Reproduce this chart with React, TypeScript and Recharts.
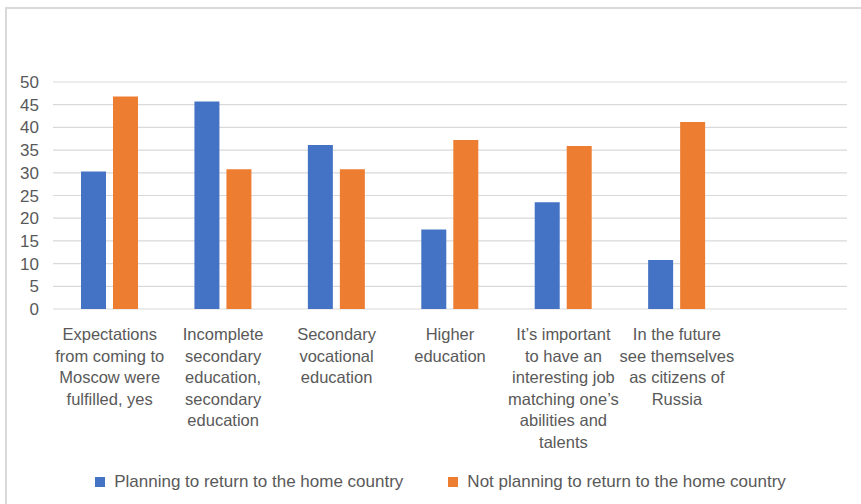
import React from "react";
import { BarChart, Bar, XAxis, YAxis, CartesianGrid, Legend } from "recharts";

const categories: string[] = [
  "Expectations\nfrom coming to\nMoscow were\nfulfilled, yes",
  "Incomplete\nsecondary\neducation,\nsecondary\neducation",
  "Secondary\nvocational\neducation",
  "Higher\neducation",
  "It’s important\nto have an\ninteresting job\nmatching one’s\nabilities and\ntalents",
  "In the future\nsee themselves\nas citizens of\nRussia",
  "",
];

const planningReturn: (number | null)[] = [30.3, 45.7, 36.1, 17.5, 23.5, 10.8, null];
const notPlanningReturn: (number | null)[] = [46.8, 30.8, 30.8, 37.2, 35.9, 41.2, null];

const seriesNames = [
  "Planning to return to the home country",
  "Not planning to return to the home country",
];
const seriesColors = ["#4472C4", "#ED7D31"];

const yTicks = [0, 5, 10, 15, 20, 25, 30, 35, 40, 45, 50];

const data = categories.map((c, i) => ({
  category: c,
  planning: planningReturn[i],
  notPlanning: notPlanningReturn[i],
}));

const FONT = "'Liberation Sans', Arial, sans-serif";
const TEXT = "#595959";

const CategoryTick = (props: any) => {
  const { x, y, payload } = props;
  const lines = String(payload.value).split("\n");
  return (
    <text x={x} y={y} textAnchor="middle" fill={TEXT} fontSize={16.5} fontFamily={FONT}>
      {lines.map((l, i) => (
        <tspan key={i} x={x} dy={i === 0 ? 23 : 21.5}>
          {l}
        </tspan>
      ))}
    </text>
  );
};

const LegendContent = () => (
  <div
    style={{
      height: 45,
      width: 861,
      display: "flex",
      alignItems: "center",
      justifyContent: "center",
      paddingLeft: 20,
      boxSizing: "border-box",
      fontFamily: FONT,
      fontSize: 17,
      color: TEXT,
    }}
  >
    {seriesNames.map((n, i) => (
      <div key={n} style={{ display: "flex", alignItems: "center", marginLeft: i === 0 ? 0 : 45 }}>
        <span style={{ display: "inline-block", width: 10, height: 10, background: seriesColors[i], marginRight: 9 }} />
        <span>{n}</span>
      </div>
    ))}
  </div>
);

export default function App() {
  return (
    <div style={{ position: "relative", width: 861, height: 504, background: "#fff", overflow: "hidden" }}>
      <style>{`body{margin:0}`}</style>
      <div style={{ position: "absolute", left: 5, top: 7, width: 2, height: 497, background: "#D9D9D9" }} />
      <div style={{ position: "absolute", left: 5, top: 7, width: 856, height: 2, background: "#D9D9D9" }} />
      <BarChart
        width={861}
        height={504}
        data={data}
        margin={{ top: 82, right: 14, left: 0, bottom: 0 }}
        barSize={25}
        barGap={7}
      >
        <CartesianGrid vertical={false} stroke="#D9D9D9" strokeWidth={1.2} />
        <XAxis
          dataKey="category"
          height={150}
          interval={0}
          axisLine={false}
          tickLine={false}
          tick={<CategoryTick />}
        />
        <YAxis
          width={53}
          domain={[0, 50]}
          ticks={yTicks}
          interval={0}
          axisLine={false}
          tickLine={false}
          tickMargin={8}
          tick={{ fill: TEXT, fontSize: 17, fontFamily: FONT }}
        />
        <Legend verticalAlign="bottom" content={<LegendContent />} />
        <Bar dataKey="planning" name={seriesNames[0]} fill={seriesColors[0]} isAnimationActive={false} />
        <Bar dataKey="notPlanning" name={seriesNames[1]} fill={seriesColors[1]} isAnimationActive={false} />
      </BarChart>
    </div>
  );
}
